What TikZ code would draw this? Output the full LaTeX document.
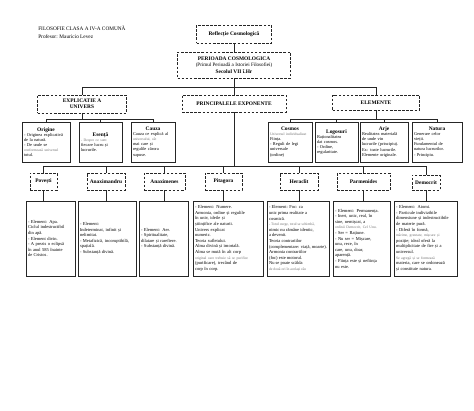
\documentclass[tikz,border=0pt]{standalone}
\usepackage{fontspec}
\setmainfont{Liberation Serif}
\usepackage{xcolor}
\usepackage{tikz}
\usetikzlibrary{positioning}
\newcommand{\mic}[1]{{\fontsize{3.7}{5}\selectfont\color{black!55}#1}}
\newcommand{\titlu}[1]{\makebox[\linewidth]{\fontsize{5.4}{6}\selectfont\bfseries #1}}

\begin{document}
\begin{tikzpicture}[
    x=1pt, y=-1pt,
    line width=0.6pt, draw=black!85,
    dbox/.style={rectangle, draw, dash pattern=on 2.6pt off 1.5pt, line width=0.8pt, align=center, inner sep=0pt, font=\fontsize{5.4}{6.4}\selectfont\bfseries},
    ebox/.style={rectangle, draw, inner xsep=2pt, inner ysep=1pt, text width=#1, minimum height=40pt, align=left, font=\fontsize{4.4}{5.1}\selectfont},
    tbox/.style={rectangle, draw, inner xsep=2pt, inner ysep=1pt, text width=#1, minimum height=75pt, align=left, font=\fontsize{4.5}{5.6}\selectfont}
]
    \useasboundingbox[fill=white] (0,0) rectangle (474,410);

    % Antet
    \node[anchor=north west, align=left, inner sep=0pt, font=\fontsize{5.3}{7.8}\selectfont] (antet) at (38,25.5) {FILOSOFIE CLASA A IV-A COMUNĂ\\Profesor: Mauricio Levez};

    % Nivel superior
    \node[dbox, minimum width=75, minimum height=18] (refl) at (234,34) {Reflecție Cosmologică};
    \node[dbox, minimum width=113, minimum height=26] (per) at (234,65) {PERIOADA COSMOLOGICA\\{\mdseries\fontsize{5.1}{6.4}\selectfont (Primul Perioadă a Istoriei Filosofiei)}\\Secolul VII î.Hr};

    % Categorii
    \node[dbox, minimum width=89, minimum height=18] (expl) at (82,104) {EXPLICATIE A\\UNIVERS};
    \node[dbox, minimum width=104, minimum height=17] (princ) at (234,103.5) {PRINCIPALELE EXPONENTE};
    \node[dbox, minimum width=87, minimum height=15] (elem) at (376,102.5) {ELEMENTE};

    % Explicatie
    \node[ebox=44] (orig) at (46,142) {\titlu{Origine}\\- Originea explicativă\\de la natură.\\- De unde se\\\mic{conformează universul}\\totul.};
    \node[ebox=39] (esen) at (100.5,142) {\titlu{Esență}\\\mic{- Despre ce sunt}\\fiecare lucru și\\lucrurile.};
    \node[ebox=40] (cauza) at (153,142) {\titlu{Cauza}\\Cauza ce explică al\\\mic{universului, cât}\\mai care și\\regulile cărora\\supuse.};

    % Elemente
    \node[ebox=40] (cosm) at (290,142) {\titlu{Cosmos}\\\mic{Universul individualizat}\\Ființa.\\- Reguli de legi\\universale\\(ordine)\\[3pt]};
    \node[ebox=39] (logos) at (336.5,142) {\titlu{Logosuri}\\Raționalitatea\\dat cosmos.\\- Ordine,\\regularitate.};
    \node[ebox=44] (arje) at (384,142) {\titlu{Arje}\\Realitatea materială\\de unde vin\\lucrurile (principiu).\\Ex: toate lucrurile.\\Elemente originale.};
    \node[ebox=46] (nat) at (437,142) {\titlu{Natura}\\Generare celor\\vieții.\\Fundamentul de\\natura lucrurilor.\\- Principiu.};

    % Exponenti
    \node[dbox, minimum width=27, minimum height=17] (thal) at (43.5,181.5) {Povești};
    \node[dbox, minimum width=38, minimum height=17] (anxd) at (106,181.5) {Anaximandru};
    \node[dbox, minimum width=41, minimum height=17] (anxm) at (164.5,181.5) {Anaximenes};
    \node[dbox, minimum width=37, minimum height=17] (pit) at (223.5,181.5) {Pitagora};
    \node[dbox, minimum width=38, minimum height=17] (her) at (299,181.5) {Heraclit};
    \node[dbox, minimum width=53, minimum height=17] (par) at (363.5,181.5) {Parmenides};
    \node[dbox, minimum width=28, minimum height=15] (dem) at (426,182.5) {Democrit};

    % Descrieri
    \node[tbox=45] (thalt) at (50.5,238.5) {- Element: Apa.\\Ciclul indestructibil\\din apă.\\- Element divin.\\- A prezis o eclipsă\\în anul 585 înainte\\de Cristos.};
    \node[tbox=54] (anxdt) at (107,238.5) {- Element:\\Indeterminat, infinit și\\nelimitat.\\- Metafizică, incoruptibilă,\\spațială.\\- Substanță divină.\\[8pt]};
    \node[tbox=45] (anxmt) at (163.5,238.5) {- Element: Aer.\\- Spiritualitate,\\dilatare și rarefiere.\\- Substanță divină.};
    \node[tbox=66] (pitt) at (228,238.5) {- Element: Numere.\\Armonia, ordine și regulile\\în univ, ideile și\\științifice ale naturii.\\Univers explicat\\numeric.\\Teoria sufletului.\\Alma divină și imortală.\\Alma se mută în alt corp\\\mic{original care trebuie să se purifice}\\(purificare), trecând de\\corp în corp.};
    \node[tbox=58, align=justify] (hert) at (298,238.5) {- Element: Foc: ca\\unic prima realitate a\\cosmică.\\\mic{- Totul curge, totul se schimbă,}\\nimic nu rămâne identic,\\a devenit.\\Teoria contrariilor\\(complementare: viață, moarte).\\Armonia contrariilor\\(foc) este motorul.\\Nu se poate scălda\\\mic{de două ori în același râu}};
    \node[tbox=53] (part) at (361.5,238.5) {- Element: Permanența.\\- Inert, unic, real, în\\sine, nemișcat, a\\\mic{ordinii Democrit, Cel Unu.}\\- Ser = Rațiune.\\- Nu ser = Mișcare,\\unu, rece, în\\care, unu, doar,\\aparență.\\- Ființa este și neființa\\nu este.};
    \node[tbox=59] (demt) at (425.5,238.5) {- Element: Atomi.\\- Particule indivizibile\\dimensiune și indestructibile\\de materie pură.\\- Diferă în formă,\\\mic{mărime, greutate, mișcare și}\\poziție; ideal oferă la\\multiplicitate de fire și a\\universul.\\\mic{Se agregă și se formează}\\materia, care se ordonează\\și constituie natura.};

    % Conexiuni
    \draw (refl) -- (per);
    \draw (per.south) -- ++(0,9) coordinate (jx) -| (expl.north);
    \draw (jx) -| (elem.north);
    \draw (jx) -- (princ.north);

    \draw (expl.south) -- ++(0,6) coordinate (je);
    \draw (orig.north) |- (je) -| (cauza.north);
    \draw (esen.north) |- (je);

    \draw (elem.south) -- ++(0,8.5) coordinate (jl);
    \draw (cosm.north) |- (jl) -| (nat.north);
    \draw (logos.north) |- (jl);
    \draw (arje.north) |- (jl);

    \draw (princ.south) -- ++(0,54) coordinate (jp);
    \draw (thal.north) |- (jp) -| (dem.north);
    \draw (anxd.north) |- (jp);
    \draw (anxm.north) |- (jp);
    \draw (pit.north) |- (jp);
    \draw (her.north) |- (jp);
    \draw (par.north) |- (jp);

    \draw (thal.south) -- (thal.south |- thalt.north);
    \draw (anxd.south) -- (anxd.south |- anxdt.north);
    \draw (anxm.south) -- (anxm.south |- anxmt.north);
    \draw (pit.south) -- (pit.south |- pitt.north);
    \draw (her.south) -- (her.south |- hert.north);
    \draw (par.south) -- (par.south |- part.north);
    \draw (dem.south) -- (dem.south |- demt.north);
\end{tikzpicture}
\end{document}
